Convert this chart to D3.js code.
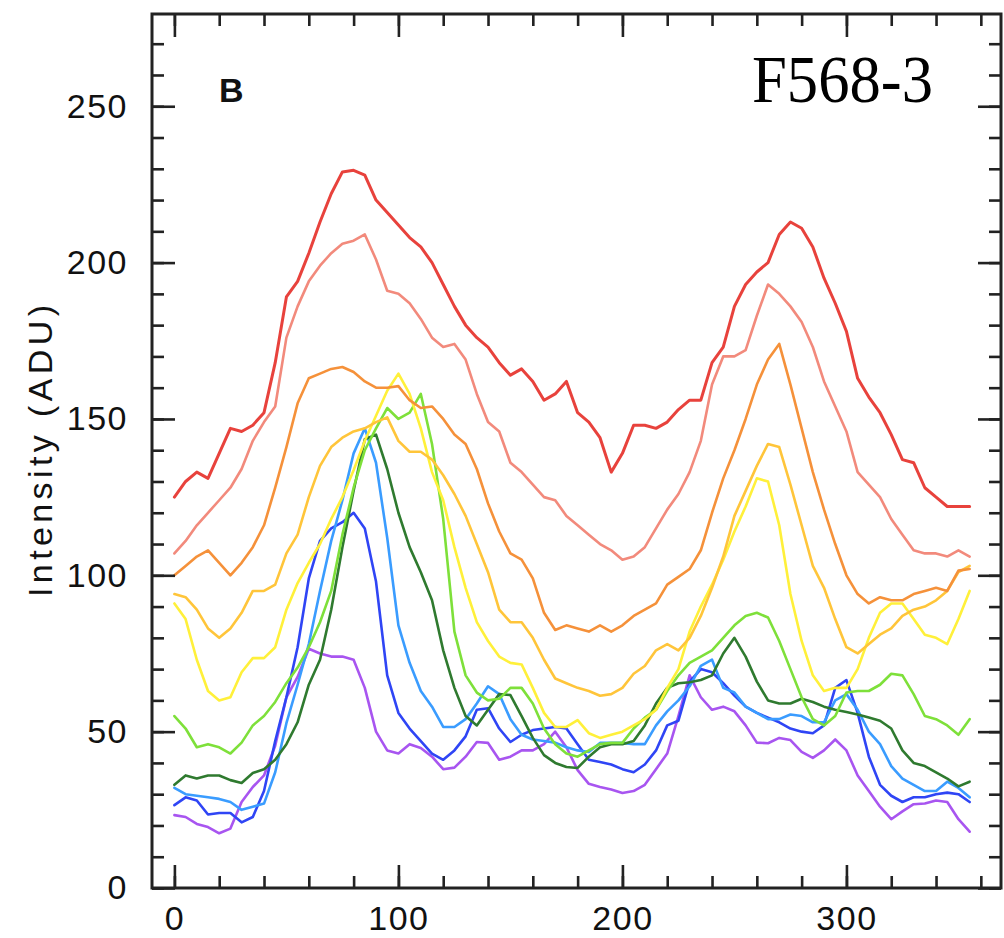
<!DOCTYPE html>
<html>
<head>
<meta charset="utf-8">
<script src="https://cdn.jsdelivr.net/npm/d3@7"></script>
<style>
  html, body { margin: 0; padding: 0; background: #ffffff; }
  svg { display: block; }
</style>
</head>
<body>
<div id="chart"></div>
<script>
// Position angle (degrees) for every sample
const angles = [0,5,10,15,20,25,30,35,40,45,50,55,60,65,70,75,80,85,90,95,100,105,110,115,120,125,130,135,140,145,150,155,160,165,170,175,180,185,190,195,200,205,210,215,220,225,230,235,240,245,250,255,260,265,270,275,280,285,290,295,300,305,310,315,320,325,330,335,340,345,350,355];

const red = [125,130,133,131,139,147,146,148,152,168,189,194,203,213,222,229,229.5,228,220,216,212,208,205,200,193,186,180,176,173,168,164,166,162,156,158,162,152,149,144,133,139,148,148,147,149,153,156,156,168,173,186,193,197,200,209,213,211,205,195,187,178,163,157,152,145,137,136,128,125,122,122,122];
const salmon = [107,111,116,120,124,128,134,143,149,154,176,186,194,199,203,206,207,209,201,191,190,187,182,176,173,174,169,158,149,146,136,133,129,125,124,119,116,113,110,108,105,106,109,115,121,126,133,143,161,170,170,172,183,193,190,186,181,173,162,154,146,133,129,125,118,113,108,107,107,106,108,106];
const orange = [100,103,106,108,104,100,104,109,116,128,141,155,163,164.5,166,166.6,165,162,160,160,160.5,156,153.5,154,150,145,142,134,123,114,107,105,99,88,82.5,84,83,82,84,82,84,87,89,91,97,99.5,102,108,120,131,140,150,161,169,174,161,147,133,121,110,100,94,91,93,92,92,94,95,96,95,101.5,102];
const gold = [94,93,89,83,80,83,88,95,95,97,107,113,125,135,141,144,146,147,149,150.5,143,139.5,139.5,137,132,126,119,110,101,89,85,85,80,73,67,65.5,64,63,61.5,62,64,68.5,71,76,78,76,80,87,96,106,119,127,135,142,141,129,116,103,96,86,77,75,78,81,83,87,89,90,92,95,101,103];
const yellow = [91,86,73,63,60,61,69,73.5,73.5,77,89,97.5,104,110,118,125,133.6,143,151,159,164.5,158,147,133,124,109,96,85,79,74,72,71.5,64,56,51.5,51.5,53.7,49.5,48,49,50,52,54,57,64,70,82,90,97,105,114,122,131,130,116,94,79,68,63,64,64,70,80,88,91,91,86,81,80,78,86,95];
const lime = [55,51,45,46,45,43,46.5,52,55,59.5,65.5,70.5,77,85,95,113,128,140,147,153.5,150,152,158,142,118,82,68,62.5,60,60.5,64,64,59,51,46,43,42,44,46,46.4,46.4,51,54.5,57,63,68,72,74,76,80,84,87,88,86.5,79,70,61,54,52,55,62.5,63,63,65,68.5,68,62,55,54,52,49,54];
const darkGreen = [33,36,35,36,36,34.5,33.6,36.8,38,41,46,53,65,73,89,109,127,143.5,145,134,120,109,101,92,76,64,55,52,57,62,61.7,55,48,42.5,40,38.7,38.4,42,45,46,46,47,52,59,64,65.5,65.8,66.5,68,75,80,74,66,60,59,59,60.5,59.5,58,57,56.3,55.5,54.5,53.5,51,44,40,39,37,35,32.5,34];
const lightBlue = [32,30,29.5,29,28.5,27.5,25,26,27,37,52.7,65,78,95,111,124,139,147,136,112,84,72,63,58,51.5,51.5,54,59,64.5,62,54,49,47.5,47,46.5,45,44,43.5,46.4,46.4,46.4,46,46,52,56.5,60,64.5,71,73,64,62.5,58,56,54,54,55.5,55,53,53,60,62,57,50,46,39,35,33,31,31,34,32,29];
const blue = [26.5,29,28,23.5,24,24,21,22.7,31,47,61,77,99,111,115,117,120,115,98,68,56,51,47,43,41,44,48.5,57,57.5,51,46.7,49,50.5,51,51.5,51,46,41,40.3,39.5,38,37,39.5,44,52,53.5,66,70,69,65.5,61.5,58,56,54.5,53,51,50,49.5,52,64,66.5,56,42,33,29.5,27.5,29,29,30,30.5,30,27.5];
const purple = [23.3,22.7,20.5,19.5,17.5,19,27.5,32.3,36,45.5,61,67.5,76.5,75,74,74,73,64,50,44,43,46,44.8,42,38,38.5,42,46.7,46.4,41,42,44,44,46,50,45,37.7,33.3,32.3,31.5,30.4,31,33,38,43,55,68,61,57,58,56.5,52,46.5,46.3,48,47.3,43.5,41.6,44,47.5,44,36,31,26,22,24.5,26.8,27,28,27.5,22,18];

const seriesNames = ["red","salmon","orange","gold","yellow","lime","darkGreen","lightBlue","blue","purple"];
const seriesValues = [red, salmon, orange, gold, yellow, lime, darkGreen, lightBlue, blue, purple];
const seriesColors = ["#e8423c","#f28a7c","#f5913a","#ffc53a","#fff03a","#7ee03a","#2f7a2f","#3a9cff","#2f45f5","#a855f0"];
const seriesWidths = [3, 2.6, 2.6, 2.6, 2.6, 2.6, 2.6, 2.6, 2.6, 2.6];

const xMajorTicks = [0,100,200,300];
const xMinorTicks = [0,20,40,60,80,100,120,140,160,180,200,220,240,260,280,300,320,340,360];
const yMajorTicks = [0,50,100,150,200,250];
const yMinorTicks = [0,10,20,30,40,50,60,70,80,90,100,110,120,130,140,150,160,170,180,190,200,210,220,230,240,250,260,270];

const yTitle = "Intensity (ADU)";
const panelLabel = "B";
const objectLabel = "F568-3";

const W = 1004, H = 938;
const pLeft = 152, pRight = 1001, pTop = 14, pBottom = 888;

const svg = d3.select("#chart").append("svg").attr("width", W).attr("height", H);

const x = d3.scaleLinear().domain([-10, 369]).range([pLeft, pRight]);
const y = d3.scaleLinear().domain([0, 279.5]).range([pBottom, pTop]);

const labelFont = "'Liberation Sans', Arial, sans-serif";

// lines
const line = d3.line().x((d, i) => x(angles[i])).y(d => y(d));
const order = [9,8,7,6,5,4,3,2,1,0];
svg.append("g").selectAll("path").data(order).join("path")
  .attr("d", k => line(seriesValues[k]))
  .attr("fill", "none")
  .attr("stroke", k => seriesColors[k])
  .attr("stroke-width", k => seriesWidths[k])
  .attr("stroke-linejoin", "round")
  .attr("stroke-linecap", "round");

// axes (ticks pointing inward)
function styleAxis(g) {
  g.select(".domain").remove();
  g.selectAll(".tick line").attr("stroke", "#222").attr("stroke-width", 2.6);
  g.selectAll("text").attr("font-family", labelFont).attr("font-size", 34)
    .attr("fill", "#111").attr("letter-spacing", "1.5px");
}

svg.append("g").attr("transform", `translate(0,${pBottom})`)
  .call(d3.axisBottom(x).tickValues(xMinorTicks).tickSize(-12).tickFormat("")).call(styleAxis);
svg.append("g").attr("transform", `translate(0,${pBottom})`)
  .call(d3.axisBottom(x).tickValues(xMajorTicks).tickSize(-23).tickPadding(18).tickFormat(d3.format("d"))).call(styleAxis);
svg.append("g").attr("transform", `translate(0,${pTop})`)
  .call(d3.axisTop(x).tickValues(xMinorTicks).tickSize(-12).tickFormat("")).call(styleAxis);
svg.append("g").attr("transform", `translate(0,${pTop})`)
  .call(d3.axisTop(x).tickValues(xMajorTicks).tickSize(-23).tickFormat("")).call(styleAxis);

svg.append("g").attr("transform", `translate(${pLeft},0)`)
  .call(d3.axisLeft(y).tickValues(yMinorTicks).tickSize(-12).tickFormat("")).call(styleAxis);
svg.append("g").attr("transform", `translate(${pLeft},0)`)
  .call(d3.axisLeft(y).tickValues(yMajorTicks).tickSize(-23).tickPadding(24).tickFormat(d3.format("d"))).call(styleAxis);
svg.append("g").attr("transform", `translate(${pRight},0)`)
  .call(d3.axisRight(y).tickValues(yMinorTicks).tickSize(-12).tickFormat("")).call(styleAxis);
svg.append("g").attr("transform", `translate(${pRight},0)`)
  .call(d3.axisRight(y).tickValues(yMajorTicks).tickSize(-23).tickFormat("")).call(styleAxis);

// frame
svg.append("rect").attr("x", pLeft).attr("y", pTop).attr("width", pRight - pLeft).attr("height", pBottom - pTop)
  .attr("fill", "none").attr("stroke", "#222").attr("stroke-width", 3);

// y title
svg.append("text")
  .attr("transform", `translate(52,451) rotate(-90)`)
  .attr("text-anchor", "middle")
  .attr("font-family", labelFont).attr("font-size", 34).attr("fill", "#111")
  .attr("textLength", 292).attr("lengthAdjust", "spacing")
  .text(yTitle);

// panel label
svg.append("text").attr("x", 219).attr("y", 102)
  .attr("font-family", labelFont).attr("font-size", 34).attr("font-weight", "bold").attr("fill", "#111")
  .text(panelLabel);

// object name
svg.append("text").attr("x", 752).attr("y", 102)
  .attr("font-family", "'Liberation Serif', 'Times New Roman', serif").attr("font-size", 67).attr("fill", "#000")
  .attr("textLength", 181).attr("lengthAdjust", "spacingAndGlyphs")
  .text(objectLabel);
</script>
</body>
</html>
